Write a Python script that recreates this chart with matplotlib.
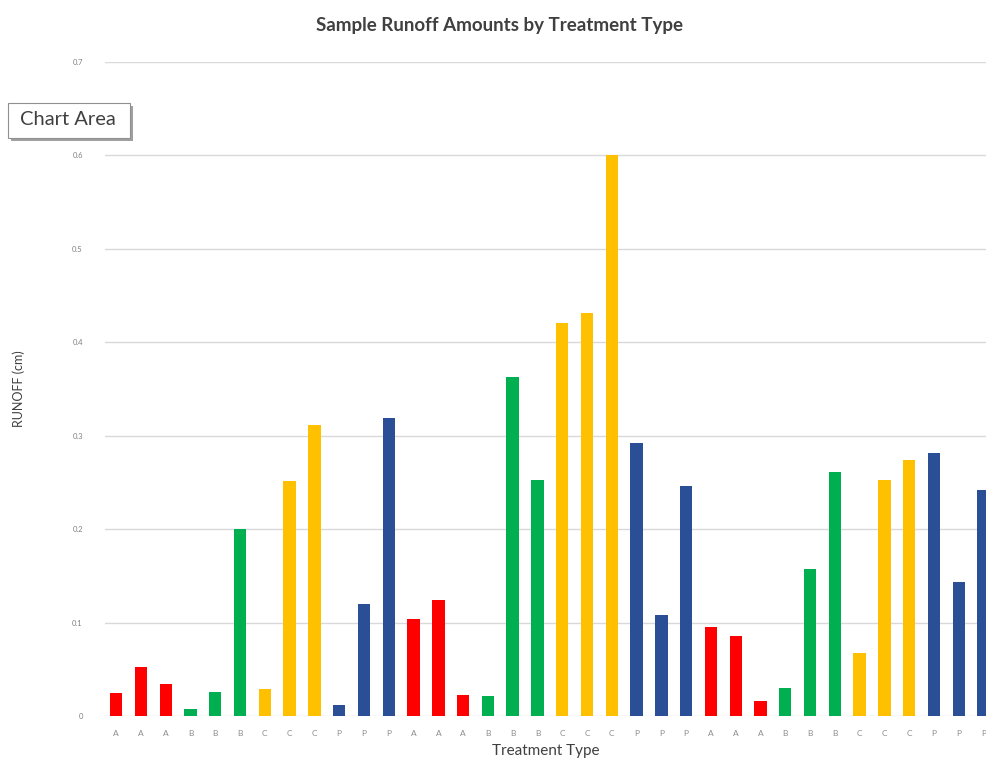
import matplotlib.pyplot as plt
from matplotlib.patches import Rectangle

plt.rcParams['font.family'] = ['Lato', 'DejaVu Sans']

# Treatment label for each sample, in plotting order
treatments = ['A', 'A', 'A', 'B', 'B', 'B', 'C', 'C', 'C', 'P', 'P', 'P'] * 3
runoff = [0.025, 0.052, 0.034, 0.008, 0.026, 0.200, 0.029, 0.251, 0.311, 0.012, 0.120, 0.319,
          0.104, 0.124, 0.022, 0.021, 0.363, 0.253, 0.421, 0.431, 0.600, 0.292, 0.108, 0.246,
          0.095, 0.086, 0.016, 0.030, 0.157, 0.261, 0.067, 0.253, 0.274, 0.282, 0.143, 0.242]
palette = {'A': '#ff0000', 'B': '#00b050', 'C': '#ffc000', 'P': '#2a4f96'}
y_ticks = [0, 0.1, 0.2, 0.3, 0.4, 0.5, 0.6, 0.7]

fig = plt.figure(figsize=(9.86, 7.6), dpi=100)
ax = fig.add_axes([0.1065, 0.0579, 0.8935, 0.8605])

x = list(range(len(runoff)))
ax.bar(x, runoff, width=0.5, color=[palette[t] for t in treatments], zorder=3)

ax.set_xlim(-0.45, 35.1)
ax.set_ylim(0, 0.7)
ax.set_yticks(y_ticks)
ax.set_yticklabels(['0' if v == 0 else f'{v:.1f}' for v in y_ticks], fontsize=5.5, color='#808080')
ax.set_xticks(x)
ax.set_xticklabels(treatments, fontsize=6, color='#8c8c8c')
ax.tick_params(length=0, pad=10)
ax.tick_params(axis='y', pad=16)
ax.grid(axis='y', color='#d9d9d9', linewidth=1, zorder=0)
for s in ax.spines.values():
    s.set_visible(False)

ax.set_xlabel('Treatment Type', fontsize=11, color='#404040', labelpad=5)
ax.set_ylabel('RUNOFF (cm)', fontsize=9, color='#404040', labelpad=34)
fig.text(0.507, 0.967, 'Sample Runoff Amounts by Treatment Type', ha='center', va='center',
         fontsize=13.5, fontweight='bold', color='#404040')

# "Chart Area" tooltip with a small drop shadow
fig.patches.append(Rectangle((0.011, 0.815), 0.124, 0.046, transform=fig.transFigure,
                             facecolor='#a0a0a0', edgecolor='none', zorder=4))
fig.patches.append(Rectangle((0.008, 0.819), 0.124, 0.046, transform=fig.transFigure,
                             facecolor='white', edgecolor='#909090', linewidth=0.8, zorder=5))
fig.text(0.069, 0.843, 'Chart Area', ha='center', va='center', fontsize=14.5,
         color='#404040', zorder=6)

fig.savefig('out.png', dpi=100)
